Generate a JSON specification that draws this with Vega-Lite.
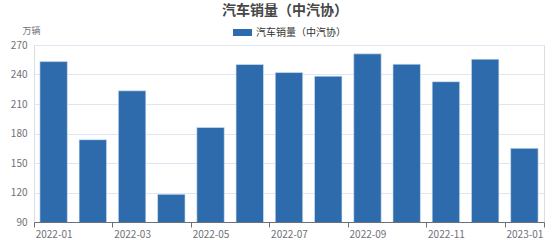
{
  "$schema": "https://vega.github.io/schema/vega-lite/v6.json",
  "width": 510,
  "height": 177,
  "autosize": {"type": "none"},
  "padding": {"left": 34, "top": 45, "right": 10, "bottom": 18},
  "background": "#ffffff",
  "title": {
    "text": "汽车销量（中汽协）",
    "anchor": "middle",
    "dx": -4,
    "dy": -1,
    "fontSize": 14,
    "fontWeight": "bold",
    "color": "#464646",
    "font": "Noto Sans CJK SC"
  },
  "data": {
    "values": [
      {"month": "2022-01", "series": "汽车销量（中汽协）", "sales": 253.1},
      {"month": "2022-02", "series": "汽车销量（中汽协）", "sales": 173.7},
      {"month": "2022-03", "series": "汽车销量（中汽协）", "sales": 223.4},
      {"month": "2022-04", "series": "汽车销量（中汽协）", "sales": 118.1},
      {"month": "2022-05", "series": "汽车销量（中汽协）", "sales": 186.2},
      {"month": "2022-06", "series": "汽车销量（中汽协）", "sales": 250.2},
      {"month": "2022-07", "series": "汽车销量（中汽协）", "sales": 242.0},
      {"month": "2022-08", "series": "汽车销量（中汽协）", "sales": 238.3},
      {"month": "2022-09", "series": "汽车销量（中汽协）", "sales": 261.0},
      {"month": "2022-10", "series": "汽车销量（中汽协）", "sales": 250.5},
      {"month": "2022-11", "series": "汽车销量（中汽协）", "sales": 232.7},
      {"month": "2022-12", "series": "汽车销量（中汽协）", "sales": 255.6},
      {"month": "2023-01", "series": "汽车销量（中汽协）", "sales": 164.9}
    ]
  },
  "resolve": {"axis": {"x": "independent"}},
  "layer": [
    {
      "mark": {"type": "bar", "clip": true, "stroke": "#dbe7f3", "strokeWidth": 0.6},
      "encoding": {
        "x": {
          "field": "month",
          "type": "nominal",
          "sort": null,
          "scale": {"paddingInner": 0.3, "paddingOuter": 0.15},
          "axis": {
            "title": null,
            "orient": "bottom",
            "values": ["2022-01", "2022-03", "2022-05", "2022-07", "2022-09", "2022-11", "2023-01"],
            "tickOffset": -19.615,
            "labelOffset": 19.615,
            "labelAngle": 0,
            "labelFont": "Noto Sans CJK SC",
            "labelFontSize": 10,
            "labelColor": "#6e7079",
            "labelPadding": 2,
            "domainColor": "#6e7079",
            "tickColor": "#6e7079",
            "tickSize": 5,
            "grid": false
          }
        },
        "y": {
          "field": "sales",
          "type": "quantitative",
          "scale": {"domain": [90, 270], "nice": false, "zero": false},
          "axis": {
            "title": "万辆",
            "titleAngle": 0,
            "titleX": -3,
            "titleY": -12,
            "titleAlign": "center",
            "titleBaseline": "alphabetic",
            "titleFont": "Noto Sans CJK SC",
            "titleFontSize": 9,
            "titleFontWeight": "normal",
            "titleColor": "#6e7079",
            "values": [90, 120, 150, 180, 210, 240, 270],
            "labelFont": "Noto Sans CJK SC",
            "labelFontSize": 10,
            "labelColor": "#6e7079",
            "labelPadding": 7,
            "domain": false,
            "ticks": false,
            "grid": true,
            "gridColor": "#e0e6f1"
          }
        },
        "color": {
          "field": "series",
          "type": "nominal",
          "scale": {"range": ["#2e6bac"]},
          "legend": {
            "title": null,
            "orient": "none",
            "legendX": 199,
            "legendY": -22,
            "symbolType": "M-1,-0.37L1,-0.37L1,0.37L-1,0.37Z",
            "symbolSize": 361,
            "symbolStrokeWidth": 0,
            "labelFont": "Noto Sans CJK SC",
            "labelFontSize": 10,
            "labelColor": "#333333",
            "labelOffset": 4
          }
        }
      }
    },
    {
      "mark": {"type": "bar", "opacity": 0},
      "encoding": {
        "x": {
          "field": "month",
          "type": "nominal",
          "sort": null,
          "axis": {
            "title": null,
            "orient": "bottom",
            "values": ["2023-01"],
            "tickOffset": 19.615,
            "labels": false,
            "domain": false,
            "grid": false,
            "tickColor": "#6e7079",
            "tickSize": 5
          }
        }
      }
    }
  ]
}
